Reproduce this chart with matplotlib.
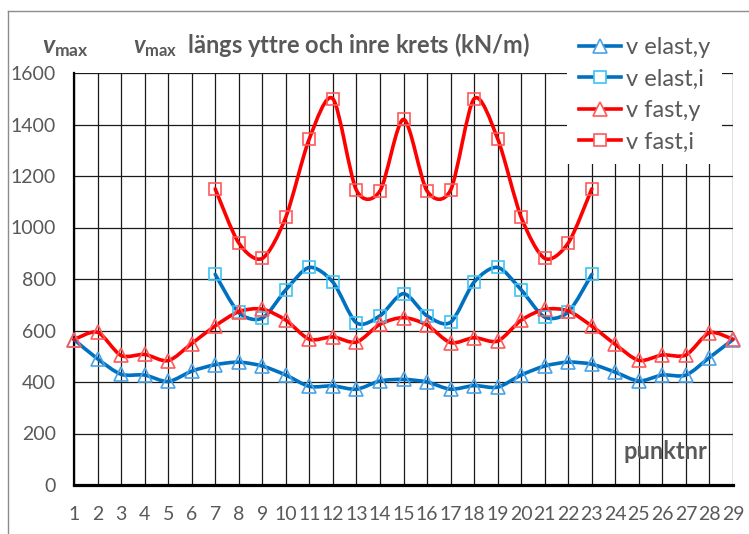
import numpy as np
import matplotlib
matplotlib.use("Agg")
import matplotlib.pyplot as plt
from matplotlib.path import Path
from matplotlib.patches import PathPatch
from matplotlib.lines import Line2D

plt.rcParams['font.family'] = ['Lato', 'DejaVu Sans']
plt.rcParams['mathtext.fontset'] = 'custom'
plt.rcParams['mathtext.rm'] = 'Lato:bold'
plt.rcParams['mathtext.it'] = 'Lato:bold:italic'
plt.rcParams['mathtext.bf'] = 'Lato:bold'

# punkt numbers along the circuits
points = list(range(1, 30))
inner_points = list(range(7, 24))

# v_max (kN/m) along outer (y) and inner (i) circuits
v_elast_y = [565, 490, 430, 427, 402, 442, 467, 477, 462, 427, 383, 385, 372, 404,
             410, 400, 372, 386, 380, 427, 462, 477, 469, 438, 404, 427, 427, 495, 565]
v_fast_y = [565, 593, 503, 507, 483, 549, 618, 673, 683, 640, 566, 575, 555, 624,
            650, 621, 553, 572, 559, 640, 682, 676, 617, 546, 484, 505, 505, 591, 566]
v_elast_i = [818, 670, 648, 758, 845, 788, 630, 657, 743, 657, 632, 788, 845, 758,
             652, 672, 818]
v_fast_i = [1150, 940, 880, 1040, 1345, 1500, 1145, 1142, 1420, 1142, 1145, 1500,
            1345, 1040, 880, 940, 1150]

labels = ["v elast,y", "v elast,i", "v fast,y", "v fast,i"]
y_ticks = [0, 200, 400, 600, 800, 1000, 1200, 1400, 1600]

TEXT = '#595959'
BLUE = '#0070C0'
RED = '#FF0000'


def smooth_path(xs, ys, k=1.0 / 7.0):
    """Cardinal spline through the points, built from cubic Bezier segments."""
    p = np.column_stack([np.asarray(xs, float), np.asarray(ys, float)])
    n = len(p)
    verts = [p[0]]
    codes = [Path.MOVETO]
    for i in range(n - 1):
        p0 = p[i - 1] if i > 0 else p[i]
        p1, p2 = p[i], p[i + 1]
        p3 = p[i + 2] if i + 2 < n else p[i + 1]
        verts += [p1 + (p2 - p0) * k, p2 - (p3 - p1) * k, p2]
        codes += [Path.CURVE4] * 3
    return Path(verts, codes)


W, H = 749, 534
fig = plt.figure(figsize=(W / 100, H / 100), dpi=100)
ax = fig.add_axes([74 / W, 1 - 485 / H, (733 - 74) / W, (485 - 73) / H])

ax.set_xlim(1, 29)
ax.set_ylim(0, 1600)
ax.set_xticks(points)
ax.set_xticklabels([str(p) for p in points])
ax.set_yticks(y_ticks)
ax.set_yticklabels([str(t) for t in y_ticks])
ax.tick_params(axis='both', length=0, labelsize=14, labelcolor=TEXT)
ax.tick_params(axis='y', pad=13)
ax.tick_params(axis='x', pad=15)

ax.grid(True, color='#1a1a1a', linewidth=0.9)
ax.set_axisbelow(True)
for side in ['top', 'right']:
    ax.spines[side].set_visible(False)
ax.spines['left'].set_linewidth(1.6)
ax.spines['bottom'].set_linewidth(2.3)
ax.spines['left'].set_color('black')
ax.spines['bottom'].set_color('black')

series = [
    (points, v_elast_y, BLUE, '^', '#4aa3e8'),
    (inner_points, v_elast_i, BLUE, 's', '#3ec3f4'),
    (points, v_fast_y, RED, '^', '#ff5a5a'),
    (inner_points, v_fast_i, RED, 's', '#ff5a5a'),
]

handles = []
for (xs, ys, lc, mk, mec), lab in zip(series, labels):
    ax.add_patch(PathPatch(smooth_path(xs, ys), facecolor='none', edgecolor=lc,
                           linewidth=2.6, capstyle='round', joinstyle='round',
                           zorder=3, clip_on=False))
    ax.plot(xs, ys, linestyle='none', marker=mk, markersize=10 if mk == '^' else 9,
            markerfacecolor='none', markeredgecolor=mec, markeredgewidth=1.2,
            zorder=4, clip_on=False)
    handles.append(Line2D([], [], color=lc, linewidth=2.6, marker=mk,
                          markersize=10 if mk == '^' else 9, markerfacecolor='white',
                          markeredgecolor=mec, markeredgewidth=1.2))

leg = fig.legend(handles, labels, loc='upper left',
                 bbox_to_anchor=(567 / W, 1 - 25 / H), bbox_transform=fig.transFigure,
                 fontsize=17, frameon=True, fancybox=False, framealpha=1,
                 edgecolor='none', facecolor='white', handlelength=1.8,
                 handletextpad=0.2, labelspacing=0.45, borderpad=0.5,
                 borderaxespad=0)
for t in leg.get_texts():
    t.set_color(TEXT)

# chart title and axis titles
fig.text(133 / W, 1 - 45 / H, r'$v_{\mathrm{max}}$  längs yttre och inre krets (kN/m)',
         fontsize=17, fontweight='bold', color=TEXT, ha='left', va='center')
fig.text(42 / W, 1 - 47 / H, r'$v_{\mathrm{max}}$', fontsize=18, color=TEXT,
         ha='left', va='center')
ax.text(26.15, 130, 'punktnr', fontsize=17, fontweight='bold', color=TEXT,
        ha='center', va='center', zorder=5)

# outer frame of the chart area
fig.add_artist(Line2D([8 / W, 8 / W], [0, 1 - 11 / H], transform=fig.transFigure,
                      color='#8c8c8c', linewidth=1.0))
fig.add_artist(Line2D([8 / W, 1], [1 - 11 / H, 1 - 11 / H], transform=fig.transFigure,
                      color='#8c8c8c', linewidth=1.0))

fig.savefig('out.png', dpi=100, facecolor='white')
